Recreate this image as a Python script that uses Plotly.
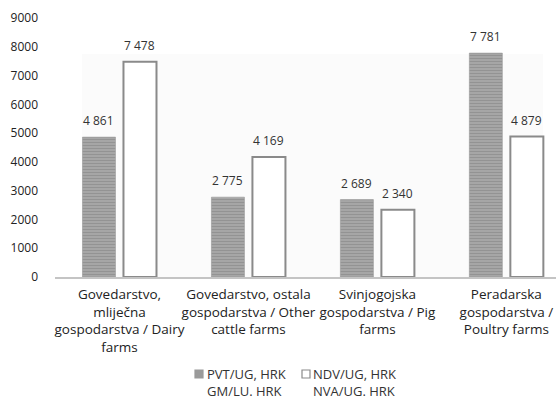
import plotly.graph_objects as go

categories = [
    "Govedarstvo,<br>mliječna<br>gospodarstva / Dairy<br>farms",
    "Govedarstvo, ostala<br>gospodarstva / Other<br>cattle farms",
    "Svinjogojska<br>gospodarstva / Pig<br>farms",
    "Peradarska<br>gospodarstva /<br>Poultry farms",
]
pvt = [4861, 2775, 2689, 7781]
ndv = [7478, 4169, 2340, 4879]
pvt_labels = ["4 861", "2 775", "2 689", "7 781"]
ndv_labels = ["7 478", "4 169", "2 340", "4 879"]
series_names = ["PVT/UG, HRK<br>GM/LU. HRK", "NDV/UG, HRK<br>NVA/UG. HRK"]
yticks = [0, 1000, 2000, 3000, 4000, 5000, 6000, 7000, 8000, 9000]

FONT = "Open Sans"
W, H = 560, 403
ML, MR, MT, MB = 55, 4, 18, 126
PW, PH = W - ML - MR, H - MT - MB


def px_x(p):
    return (p - ML) / PW


def px_y(p):
    return (H - MB - p) / PH


GRAY_MARKER = dict(color="#9a9a9a",
                   line=dict(color="#8c8c8c", width=0.5),
                   pattern=dict(shape="-", fgcolor="#7e7e7e", bgcolor="#a8a8a8", size=3, solidity=0.4))
WHITE_MARKER = dict(color="white", line=dict(color="#8a8a8a", width=2))

fig = go.Figure()
fig.add_trace(go.Bar(x=categories, y=pvt, name=series_names[0], marker=GRAY_MARKER))
fig.add_trace(go.Bar(x=categories, y=ndv, name=series_names[1], marker=WHITE_MARKER))

annotations = []
for cat, v, lab in zip(categories, pvt, pvt_labels):
    annotations.append(dict(x=cat, y=v, xref="x", yref="y", text=lab, showarrow=False,
                            xshift=-20.5, yshift=6, yanchor="bottom",
                            font=dict(family=FONT, size=12, color="#333")))
for cat, v, lab in zip(categories, ndv, ndv_labels):
    annotations.append(dict(x=cat, y=v, xref="x", yref="y", text=lab, showarrow=False,
                            xshift=20.5, yshift=6, yanchor="bottom",
                            font=dict(family=FONT, size=12, color="#333")))

# manual legend (marker left px, text left px, fill, edge)
legend_items = [(195, 206, "#9a9a9a", "#9a9a9a"), (302, 312, "white", "#8a8a8a")]
shapes = [dict(type="rect", xref="paper", yref="paper", x0=px_x(82), x1=px_x(543),
               y0=px_y(277), y1=px_y(54), fillcolor="#fbfbfb", line=dict(width=0), layer="below")]
for (mx, tx_left, fill, edge), name in zip(legend_items, series_names):
    shapes.append(dict(type="rect", xref="paper", yref="paper",
                       x0=px_x(mx), x1=px_x(mx + 8), y0=px_y(378), y1=px_y(370),
                       fillcolor=fill, line=dict(color=edge, width=1.2)))
    annotations.append(dict(x=px_x(tx_left), y=px_y(364), xref="paper", yref="paper",
                            xanchor="left", yanchor="top", align="left", text=name,
                            showarrow=False, borderpad=0,
                            font=dict(family=FONT, size=13, color="#333")))

fig.update_layout(
    width=W, height=H,
    margin=dict(l=ML, r=MR, t=MT, b=MB, autoexpand=False),
    paper_bgcolor="white", plot_bgcolor="rgba(0,0,0,0)",
    barmode="group", bargap=0.364, bargroupgap=0.195,
    font=dict(family=FONT, size=12, color="#222"),
    showlegend=False,
    annotations=annotations, shapes=shapes,
)
fig.update_xaxes(range=[-0.5, 3.385], showline=True, linecolor="#c4c4c4", linewidth=2,
                 ticks="", automargin=False, ticklabelstandoff=4, tickangle=0,
                 tickfont=dict(family=FONT, size=13.5, color="#222"))
fig.update_yaxes(range=[0, 9000], tickvals=yticks, showgrid=False, zeroline=False,
                 showline=False, ticks="", ticklabelstandoff=16, automargin=False,
                 tickfont=dict(family=FONT, size=12, color="#222"))

fig.write_html("out.html", config={"displayModeBar": False},
               post_script="document.body.style.margin='0';document.body.style.overflow='hidden';")
